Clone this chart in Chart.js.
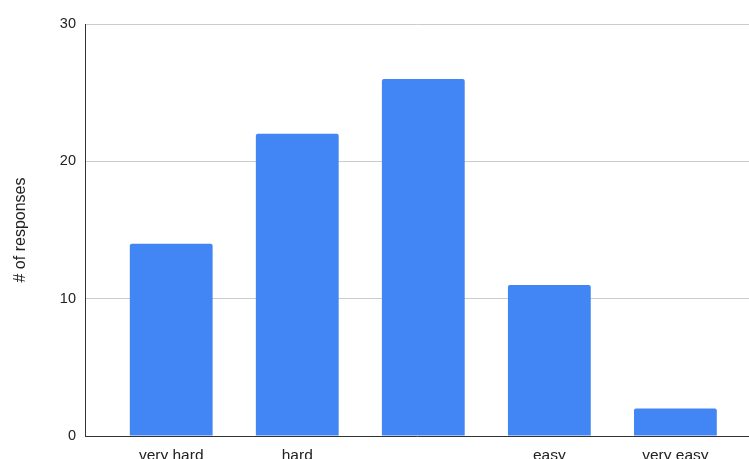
<!DOCTYPE html>
<html>
<head>
<meta charset="utf-8">
<script src="https://cdn.jsdelivr.net/npm/chart.js@4/dist/chart.umd.min.js"></script>
<style>
  html, body { margin: 0; padding: 0; background: #fff; overflow: hidden; }
  #wrap { width: 749px; height: 459px; position: relative; }
</style>
</head>
<body>
<div id="wrap"><canvas id="myChart"></canvas></div>
<script>
// difficulty ratings, middle category has no label in the original
const gCategories = ["very hard", "hard", "", "easy", "very easy"];
const gResponses = [14, 22, 26, 11, 2];
const gYTicks = [0, 10, 20, 30];

const gBlue = "#4285f4";
const gFont = "'Liberation Sans', Arial, sans-serif";

function initDataset() {
    return gCategories.map((cat, i) => ({x: i, y: gResponses[i]}));
}

const gConfig = {
    type: 'bar',
    data: {
        datasets: [{
            label: '# of responses',
            data: initDataset(),
            backgroundColor: gBlue,
            borderRadius: 2,
            barPercentage: 0.657,
            categoryPercentage: 1
        }]
    },
    options: {
        responsive: true,
        maintainAspectRatio: false,
        animation: false,
        layout: {padding: {top: 24, right: 0, left: 0, bottom: 0}},
        plugins: {
            legend: {display: false},
            tooltip: {enabled: false}
        },
        scales: {
            x: {
                type: 'linear',
                offset: false,
                min: -0.684,
                max: 4.584,
                grid: {display: false, drawTicks: false, offset: false},
                border: {display: true, color: '#333', width: 1},
                afterBuildTicks: (scale) => {
                    scale.ticks = gCategories.map((c, i) => ({value: i}));
                },
                afterFit: (scale) => { scale.height = 23; },
                ticks: {
                    padding: 10,
                    autoSkip: false,
                    maxRotation: 0,
                    color: '#222',
                    font: {family: gFont, size: 15.5},
                    callback: (value) => gCategories[value]
                }
            },
            y: {
                min: 0,
                max: 30,
                afterBuildTicks: (scale) => {
                    scale.ticks = gYTicks.map((v) => ({value: v}));
                },
                afterFit: (scale) => { scale.width = 85; },
                grid: {color: '#cccccc', drawTicks: false},
                border: {display: true, color: '#333', width: 1},
                ticks: {
                    padding: 9,
                    color: '#222',
                    font: {family: gFont, size: 14.5}
                },
                title: {
                    display: true,
                    text: '# of responses',
                    color: '#222',
                    font: {family: gFont, size: 16},
                    padding: {top: 11}
                }
            }
        }
    }
};

const ctx = document.getElementById('myChart');
const gChart = new Chart(ctx, gConfig);
</script>
</body>
</html>
